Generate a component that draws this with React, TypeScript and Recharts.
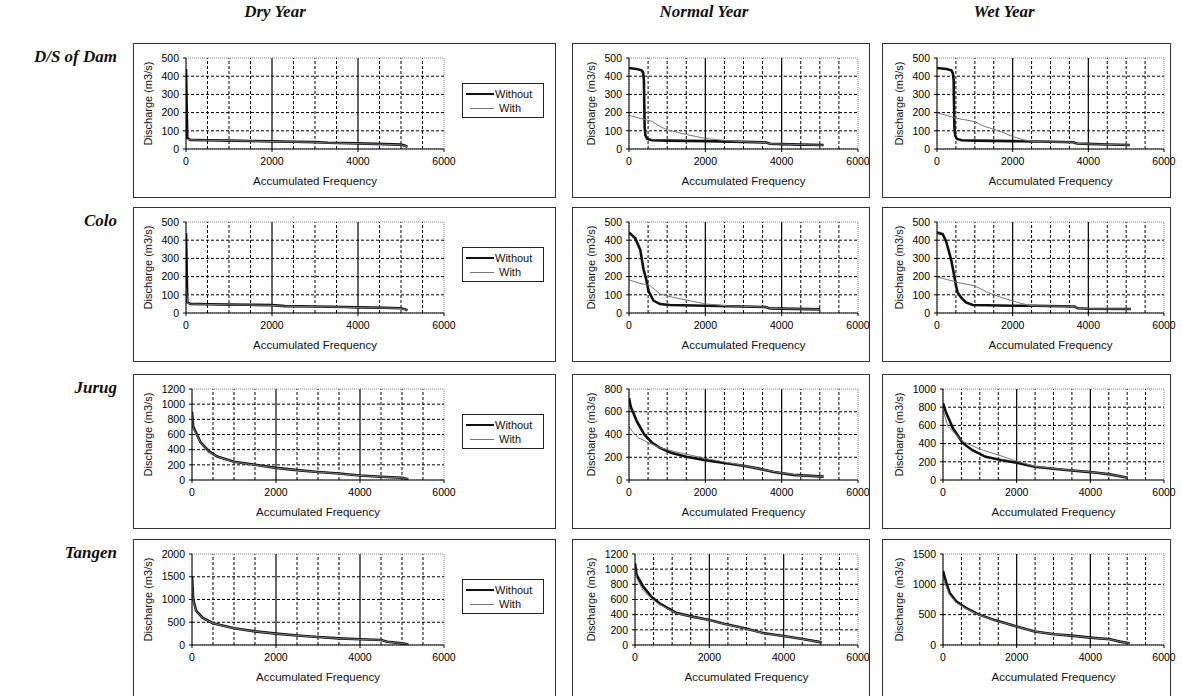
import React from 'react';
import { LineChart, Line, XAxis, YAxis, ReferenceLine, ReferenceArea, Legend } from 'recharts';

type Pt = [number, number];

const YEARS = ['Dry Year', 'Normal Year', 'Wet Year'];
const STATIONS = ['D/S of Dam', 'Colo', 'Jurug', 'Tangen'];
const SERIES_NAMES = ['Without', 'With'];
const X_TICKS = [0, 2000, 4000, 6000];
const GRID_X = [500, 1000, 1500, 2500, 3000, 3500, 4500, 5000, 5500];
const SOLID_X = [2000, 4000];

const Y_500 = [0, 100, 200, 300, 400, 500];
const Y_800 = [0, 200, 400, 600, 800];
const Y_1000 = [0, 200, 400, 600, 800, 1000];
const Y_1200 = [0, 200, 400, 600, 800, 1000, 1200];
const Y_1500 = [0, 500, 1000, 1500];
const Y_2000 = [0, 500, 1000, 1500, 2000];

// D/S of Dam
const DS_DRY_WITHOUT: Pt[] = [[0, 440], [30, 60], [100, 50], [500, 48], [1000, 46], [1500, 44], [2000, 42], [2500, 40], [3000, 38], [3300, 34], [4000, 31], [4600, 27], [5000, 24], [5100, 18], [5150, 12]];
const DS_DRY_WITH: Pt[] = [[0, 55], [100, 50], [500, 48], [1000, 46], [1500, 44], [2000, 41], [2500, 39], [3000, 37], [3300, 33], [4000, 30], [4600, 26], [5000, 23], [5150, 12]];
const DS_NOR_WITHOUT: Pt[] = [[0, 445], [200, 440], [330, 432], [370, 420], [390, 380], [400, 250], [410, 120], [430, 75], [480, 55], [600, 48], [1000, 46], [2000, 43], [3000, 39], [3600, 36], [3700, 29], [4000, 27], [4500, 24], [5100, 22]];
const DS_NOR_WITH: Pt[] = [[0, 185], [250, 170], [600, 152], [800, 125], [1000, 105], [1500, 80], [2000, 58], [2500, 47], [3000, 40], [3600, 35], [3700, 29], [4000, 27], [4500, 24], [5100, 21]];
const DS_WET_WITHOUT: Pt[] = [[0, 445], [250, 440], [380, 432], [420, 415], [440, 380], [450, 250], [460, 120], [480, 75], [530, 55], [650, 48], [1000, 46], [2000, 43], [3000, 40], [3600, 37], [3700, 30], [4000, 28], [4500, 25], [5100, 22]];
const DS_WET_WITH: Pt[] = [[0, 199], [500, 170], [1000, 150], [1250, 125], [1700, 95], [2000, 68], [2300, 50], [2600, 40], [3600, 37], [3700, 30], [4000, 28], [4500, 25], [5100, 22]];

// Colo
const CO_DRY_WITHOUT: Pt[] = [[0, 440], [30, 60], [100, 50], [500, 48], [1000, 46], [1500, 45], [2000, 43], [2300, 38], [3000, 36], [3700, 33], [4000, 31], [4600, 29], [5000, 26], [5100, 20], [5150, 14]];
const CO_DRY_WITH: Pt[] = [[0, 140], [40, 55], [100, 49], [500, 47], [1000, 45], [1500, 44], [2000, 42], [2300, 37], [3000, 35], [3700, 32], [4000, 30], [4600, 28], [5000, 25], [5150, 14]];
const CO_NOR_WITHOUT: Pt[] = [[0, 442], [165, 410], [295, 347], [380, 240], [450, 186], [510, 122], [640, 68], [815, 49], [1070, 44], [2000, 40], [2980, 36], [3580, 33], [3690, 25], [4000, 24], [5010, 20]];
const CO_NOR_WITH: Pt[] = [[0, 182], [250, 165], [554, 150], [815, 104], [1160, 86], [2000, 50], [2540, 40], [2980, 36], [3580, 33], [3690, 25], [4000, 24], [5010, 20]];
const CO_WET_WITHOUT: Pt[] = [[0, 442], [150, 433], [238, 396], [300, 350], [370, 296], [440, 223], [502, 150], [546, 113], [634, 86], [767, 58], [943, 44], [2000, 40], [2573, 40], [3630, 36], [3718, 26], [4000, 23], [5128, 22]];
const CO_WET_WITH: Pt[] = [[0, 199], [546, 168], [987, 150], [1339, 113], [1692, 86], [2132, 58], [2396, 44], [2573, 40], [3630, 36], [3718, 26], [4000, 23], [5128, 22]];

// Jurug
const JU_DRY_WITHOUT: Pt[] = [[0, 900], [30, 700], [100, 620], [200, 500], [400, 380], [600, 310], [1000, 240], [1500, 200], [2000, 160], [2500, 130], [3000, 105], [3500, 85], [4000, 60], [4500, 42], [5000, 30], [5150, 10]];
const JU_DRY_WITH: Pt[] = [[0, 880], [30, 690], [100, 610], [200, 495], [400, 378], [600, 308], [1000, 238], [1500, 198], [2000, 158], [2500, 129], [3000, 104], [3500, 84], [4000, 59], [4500, 41], [5000, 29], [5150, 10]];
const JU_NOR_WITHOUT: Pt[] = [[0, 720], [50, 640], [200, 520], [400, 400], [600, 330], [800, 285], [1100, 240], [1500, 205], [2000, 175], [2500, 150], [3000, 125], [3400, 100], [3800, 70], [4300, 45], [5100, 30]];
const JU_NOR_WITH: Pt[] = [[0, 470], [100, 420], [250, 370], [500, 330], [800, 285], [1200, 250], [2000, 190], [2500, 158], [3000, 127], [3500, 92], [4000, 62], [4500, 40], [5100, 30]];
const JU_WET_WITHOUT: Pt[] = [[0, 844], [89, 735], [267, 571], [533, 407], [800, 327], [1156, 255], [1600, 218], [2000, 189], [2489, 145], [3200, 116], [4000, 87], [4533, 62], [5022, 25]];
const JU_WET_WITH: Pt[] = [[0, 771], [133, 589], [311, 516], [533, 425], [978, 342], [1600, 262], [2000, 207], [2489, 150], [3200, 118], [4000, 88], [4533, 62], [5022, 25]];

// Tangen
const TA_DRY_WITHOUT: Pt[] = [[0, 1500], [30, 1000], [100, 750], [250, 600], [500, 480], [1000, 370], [1500, 300], [2000, 250], [2500, 210], [3000, 175], [3500, 145], [4000, 125], [4500, 110], [4650, 70], [5000, 35], [5150, 10]];
const TA_DRY_WITH: Pt[] = [[0, 1450], [30, 980], [100, 740], [250, 595], [500, 476], [1000, 366], [1500, 298], [2000, 248], [2500, 208], [3000, 173], [3500, 143], [4000, 123], [4500, 108], [4650, 68], [5000, 34], [5150, 10]];
const TA_NOR_WITHOUT: Pt[] = [[0, 1077], [44, 923], [220, 769], [440, 637], [661, 549], [1101, 426], [1542, 374], [2000, 330], [2423, 277], [2952, 220], [3480, 154], [4000, 119], [4546, 75], [5022, 35]];
const TA_NOR_WITH: Pt[] = [[0, 1000], [44, 880], [220, 720], [440, 610], [661, 535], [1101, 420], [1542, 372], [2000, 328], [2423, 275], [2952, 218], [3480, 152], [4000, 118], [4546, 74], [5022, 34]];
const TA_WET_WITHOUT: Pt[] = [[0, 1222], [89, 1028], [178, 861], [356, 722], [622, 611], [978, 500], [1422, 406], [2000, 306], [2489, 222], [3022, 178], [3556, 150], [4000, 122], [4533, 94], [4800, 56], [5067, 28]];
const TA_WET_WITH: Pt[] = [[0, 1100], [89, 960], [178, 830], [356, 700], [622, 600], [978, 495], [1422, 404], [2000, 304], [2489, 221], [3022, 177], [3556, 149], [4000, 121], [4533, 93], [4800, 55], [5067, 28]];

const PANELS: { row: number; col: number; without: Pt[]; withS: Pt[]; yTicks: number[] }[] = [
  { row: 0, col: 0, without: DS_DRY_WITHOUT, withS: DS_DRY_WITH, yTicks: Y_500 },
  { row: 0, col: 1, without: DS_NOR_WITHOUT, withS: DS_NOR_WITH, yTicks: Y_500 },
  { row: 0, col: 2, without: DS_WET_WITHOUT, withS: DS_WET_WITH, yTicks: Y_500 },
  { row: 1, col: 0, without: CO_DRY_WITHOUT, withS: CO_DRY_WITH, yTicks: Y_500 },
  { row: 1, col: 1, without: CO_NOR_WITHOUT, withS: CO_NOR_WITH, yTicks: Y_500 },
  { row: 1, col: 2, without: CO_WET_WITHOUT, withS: CO_WET_WITH, yTicks: Y_500 },
  { row: 2, col: 0, without: JU_DRY_WITHOUT, withS: JU_DRY_WITH, yTicks: Y_1200 },
  { row: 2, col: 1, without: JU_NOR_WITHOUT, withS: JU_NOR_WITH, yTicks: Y_800 },
  { row: 2, col: 2, without: JU_WET_WITHOUT, withS: JU_WET_WITH, yTicks: Y_1000 },
  { row: 3, col: 0, without: TA_DRY_WITHOUT, withS: TA_DRY_WITH, yTicks: Y_2000 },
  { row: 3, col: 1, without: TA_NOR_WITHOUT, withS: TA_NOR_WITH, yTicks: Y_1200 },
  { row: 3, col: 2, without: TA_WET_WITHOUT, withS: TA_WET_WITH, yTicks: Y_1500 },
];

// box geometry per column / row (page pixels)
const COLS = [
  { left: 133, width: 423, plotLeft: 52, plotRight: 310, center: 275 },
  { left: 572, width: 298, plotLeft: 56, plotRight: 285, center: 704 },
  { left: 882, width: 289, plotLeft: 54, plotRight: 281, center: 1004 },
];
const ROW_TOP = [43, 207, 374, 539];
const ROW_H = [155, 155, 155, 160];

const SANS = '"Liberation Sans", Arial, sans-serif';
const SERIF = '"Liberation Serif", "Times New Roman", serif';
const YAXIS_W = 48;
const XAXIS_H = 40;

const toXY = (pts: Pt[]) => pts.map(([x, y]) => ({ x, y }));

function LegendBox(props: any) {
  const items = [...(props.payload || [])].sort(
    (a: any, b: any) => SERIES_NAMES.indexOf(a.value) - SERIES_NAMES.indexOf(b.value)
  );
  return (
    <div style={{ border: '1px solid #222', background: '#fff', width: 82, height: 35, fontFamily: SANS, fontSize: 11, color: '#111', padding: '3px 0 0 3px', boxSizing: 'border-box' }}>
      {items.map((it: any) => {
        const thick = it.value === 'Without';
        return (
          <div key={it.value} style={{ display: 'flex', alignItems: 'center', height: 14 }}>
            <div style={{ width: 28, display: 'flex', justifyContent: 'flex-end' }}>
              <div style={{ width: thick ? 28 : 24, height: 0, borderTop: thick ? '2.5px solid #111' : '1px solid #777' }} />
            </div>
            <span style={{ marginLeft: thick ? 1 : 5, lineHeight: '12px' }}>{it.value}</span>
          </div>
        );
      })}
    </div>
  );
}

function Panel({ row, col, without, withS, yTicks }: { row: number; col: number; without: Pt[]; withS: Pt[]; yTicks: number[] }) {
  const c = COLS[col];
  const h = ROW_H[row];
  const yMax = yTicks[yTicks.length - 1];
  const wide = yMax >= 1000;
  const plotLeft = c.plotLeft + (wide ? 6 : 0);
  const titleDist = wide ? 44 : 38;
  const w = c.width - 2;
  const ch = h - 2;
  const plotTop = 14;
  const plotBottom = 105;
  const tickStyle = { fontFamily: SANS, fontSize: 10.5, fill: '#000' };
  return (
    <div style={{ position: 'absolute', left: c.left, top: ROW_TOP[row], width: c.width, height: h, border: '1px solid #333', boxSizing: 'border-box', background: '#fff' }}>
      <LineChart
        width={w}
        height={ch}
        margin={{ top: plotTop, left: plotLeft - YAXIS_W, right: w - c.plotRight, bottom: ch - plotBottom - XAXIS_H }}
      >
        <XAxis
          type="number"
          dataKey="x"
          domain={[0, 6000]}
          ticks={X_TICKS}
          interval={0}
          allowDataOverflow
          height={XAXIS_H}
          tick={tickStyle}
          tickSize={3}
          tickMargin={6}
          axisLine={{ stroke: '#000' }}
          tickLine={{ stroke: '#000' }}
          label={{ value: 'Accumulated Frequency', position: 'insideBottom', offset: 4, style: { fontFamily: SANS, fontSize: 11.5, fill: '#111' } }}
        />
        <YAxis
          type="number"
          dataKey="y"
          domain={[0, yMax]}
          ticks={yTicks}
          interval={0}
          allowDataOverflow
          width={YAXIS_W}
          tick={tickStyle}
          tickSize={3}
          tickMargin={4}
          axisLine={{ stroke: '#000' }}
          tickLine={{ stroke: '#000' }}
          label={{ value: 'Discharge (m3/s)', angle: -90, position: 'insideLeft', offset: YAXIS_W - titleDist, textAnchor: 'middle', style: { fontFamily: SANS, fontSize: 11, fill: '#111', textAnchor: 'middle' } }}
        />
        <ReferenceArea x1={0} x2={6000} y1={0} y2={yMax} fill="none" stroke="#888" strokeDasharray="1 1" />
        {yTicks.slice(1, -1).map((v) => (
          <ReferenceLine key={'h' + v} y={v} stroke="#000" strokeDasharray="3 2" />
        ))}
        {GRID_X.map((v) => (
          <ReferenceLine key={'v' + v} x={v} stroke="#000" strokeDasharray="3 2" />
        ))}
        {SOLID_X.map((v) => (
          <ReferenceLine key={'s' + v} x={v} stroke="#000" strokeWidth={1.2} />
        ))}
        {col === 0 && (
          <Legend
            layout="horizontal"
            verticalAlign="middle"
            align="center"
            content={<LegendBox />}
            wrapperStyle={{ position: 'absolute', left: 328, top: 39, width: 82, height: 35, right: 'auto', bottom: 'auto' }}
          />
        )}
        <Line data={toXY(without)} dataKey="y" name="Without" type="linear" stroke="#111" strokeWidth={2.6} dot={false} activeDot={false} isAnimationActive={false} />
        <Line data={toXY(withS)} dataKey="y" name="With" type="linear" stroke="#777" strokeWidth={1} dot={false} activeDot={false} isAnimationActive={false} />
      </LineChart>
    </div>
  );
}

export default function App() {
  return (
    <div style={{ position: 'absolute', left: 0, top: 0, width: 1182, height: 696, background: '#fff', overflow: 'hidden' }}>
      <style>{'.recharts-surface { overflow: visible; }'}</style>
      {YEARS.map((y, i) => (
        <div key={y} style={{ position: 'absolute', top: 2, left: COLS[i].center - 100, width: 200, textAlign: 'center', fontFamily: SERIF, fontWeight: 'bold', fontStyle: 'italic', fontSize: 17, color: '#111' }}>
          {y}
        </div>
      ))}
      {STATIONS.map((s, i) => (
        <div key={s} style={{ position: 'absolute', top: ROW_TOP[i] + 4, left: 0, width: 117, textAlign: 'right', fontFamily: SERIF, fontWeight: 'bold', fontStyle: 'italic', fontSize: 17, color: '#111' }}>
          {s}
        </div>
      ))}
      {PANELS.map((p) => (
        <Panel key={p.row + '-' + p.col} {...p} />
      ))}
    </div>
  );
}
